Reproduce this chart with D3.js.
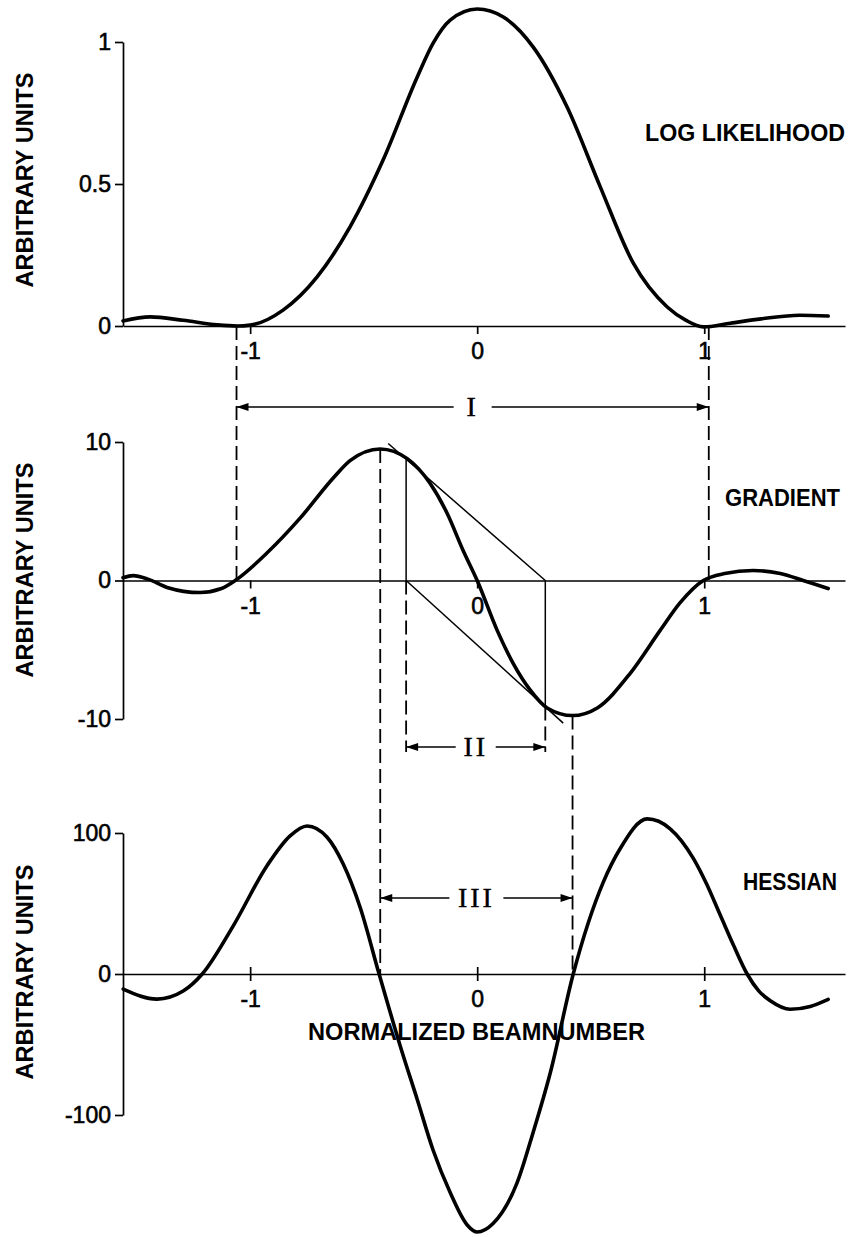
<!DOCTYPE html>
<html><head><meta charset="utf-8">
<script src="https://cdn.jsdelivr.net/npm/d3@7"></script>
<style>body{margin:0;background:#fff} svg{display:block}</style>
</head><body>
<svg id="c" width="849" height="1237"></svg>
<script>
// ---------- data ----------
const xTicks = [-1, 0, 1];
const xTickLabels = ["-1", "0", "1"];

const likTicks = [0, 0.5, 1];
const likTickLabels = ["0", "0.5", "1"];
const gradTicks = [-10, 0, 10];
const gradTickLabels = ["-10", "0", "10"];
const hessTicks = [-100, 0, 100];
const hessTickLabels = ["-100", "0", "100"];

// log likelihood
const likX = [-1.56, -1.44, -1.295, -1.145, -1.057, -1.0, -0.855, -0.705, -0.56, -0.414, -0.264, -0.194, -0.119, 0, 0.115, 0.247, 0.396, 0.542, 0.687, 0.837, 0.92, 0.996, 1.115, 1.25, 1.42, 1.546];
const likY = [0.018, 0.032, 0.02, 0.004, 0.0, 0.003, 0.056, 0.173, 0.349, 0.585, 0.877, 0.996, 1.077, 1.116, 1.088, 0.982, 0.771, 0.49, 0.222, 0.067, 0.02, -0.003, 0.01, 0.025, 0.038, 0.035];

// gradient
const gradX = [-1.56, -1.515, -1.45, -1.366, -1.22, -1.13, -1.066, -0.925, -0.78, -0.634, -0.56, -0.427, -0.308, -0.207, -0.132, -0.062, 0, 0.088, 0.159, 0.233, 0.308, 0.42, 0.529, 0.674, 0.806, 0.894, 0.996, 1.09, 1.216, 1.335, 1.436, 1.546];
const gradY = [0.2, 0.35, 0.1, -0.5, -0.87, -0.6, 0, 2.0, 4.5, 7.4, 8.66, 9.5, 8.8, 7.0, 4.84, 2.17, 0, -3.6, -6.0, -7.9, -9.2, -9.75, -9.2, -6.7, -3.6, -1.6, 0, 0.5, 0.72, 0.5, 0, -0.58];

// hessian
const hessX = [-1.559, -1.41, -1.295, -1.211, -1.075, -0.925, -0.824, -0.749, -0.661, -0.590, -0.515, -0.432, -0.339, -0.264, -0.194, -0.119, -0.044, 0, 0.070, 0.176, 0.247, 0.322, 0.423, 0.555, 0.630, 0.749, 0.850, 0.952, 1.010, 1.070, 1.130, 1.189, 1.240, 1.291, 1.379, 1.467, 1.546];
const hessY = [-10.7, -17.8, -12.1, 0, 34, 77, 98, 105, 97, 78, 47, 0, -51, -89, -125, -155, -178, -183, -177, -148, -112, -70, 0, 65, 89, 110, 103, 82, 64, 42, 20, 0, -12, -19, -25, -23, -18];

// annotation intervals (normalized beamnumber)
const beamI = [-1.06, 1.02];
const beamII = [-0.313, 0.30];
const beamIII = [-0.427, 0.42];
// Newton iteration points on the gradient curve and tangent lines
const newtonPts = [[-0.313, 8.74], [0.30, -9.1]];
const tangentA = [[-0.392, 9.89], [0.30, 0]];
const tangentB = [[-0.313, 0], [0.379, -10.3]];
const panelNames = ["LOG LIKELIHOOD", "GRADIENT", "HESSIAN"];
const yTitle = "ARBITRARY UNITS";
const xTitle = "NORMALIZED BEAMNUMBER";
const romans = ["I", "II", "III"];

// ---------- layout ----------
const svg = d3.select("#c");
const sans = "'Liberation Sans', Arial, Helvetica, sans-serif";
const serif = "'Liberation Serif', 'Times New Roman', serif";
const x = d3.scaleLinear().domain([-1.56, 1.62]).range([123, 845]);
const yL = d3.scaleLinear().domain([0, 1]).range([326, 42]);
const yG = d3.scaleLinear().domain([-10, 10]).range([719, 442]);
const yH = d3.scaleLinear().domain([-100, 100]).range([1115, 833]);

const dash = "14,6";
const ann = svg.append("g");

function vline(xv, y1, y2, dashed, w) {
  ann.append("line").attr("x1", x(xv)).attr("x2", x(xv)).attr("y1", y1).attr("y2", y2)
    .attr("stroke", "#000").attr("stroke-width", w || 1.8)
    .attr("stroke-dasharray", dashed ? dash : null);
}
// Dashed lines I
beamI.forEach(b => vline(b, yL(0), yG(0), true));
// Dashed lines II
vline(beamII[0], yG(0), 752, true);
vline(beamII[1], yG(newtonPts[1][1]), 752, true);
// Dashed lines III (from gradient extrema down to hessian zero)
vline(beamIII[0], yG(d3.max(gradY)), yH(0), true);
vline(beamIII[1], yG(d3.min(gradY)), yH(0), true);

// Newton construction: verticals and tangents
vline(newtonPts[0][0], yG(newtonPts[0][1]), yG(0), false, 1.5);
vline(newtonPts[1][0], yG(0), yG(newtonPts[1][1]), false, 1.5);
[tangentA, tangentB].forEach(t => {
  ann.append("line").attr("x1", x(t[0][0])).attr("y1", yG(t[0][1]))
    .attr("x2", x(t[1][0])).attr("y2", yG(t[1][1]))
    .attr("stroke", "#000").attr("stroke-width", 1.5);
});

// Arrows with roman numerals
function arrow(a, b, y, gap, label) {
  const x1 = x(a), x2 = x(b), cx = (x1 + x2) / 2;
  ann.append("line").attr("x1", x1).attr("x2", cx - gap).attr("y1", y).attr("y2", y)
    .attr("stroke", "#000").attr("stroke-width", 1.5);
  ann.append("line").attr("x1", cx + gap).attr("x2", x2).attr("y1", y).attr("y2", y)
    .attr("stroke", "#000").attr("stroke-width", 1.5);
  ann.append("path").attr("d", `M${x1},${y} L${x1 + 12},${y - 4} L${x1 + 12},${y + 4} Z`).attr("fill", "#000");
  ann.append("path").attr("d", `M${x2},${y} L${x2 - 12},${y - 4} L${x2 - 12},${y + 4} Z`).attr("fill", "#000");
  ann.append("text").attr("x", cx).attr("y", y + 9).attr("text-anchor", "middle")
    .attr("font-family", serif).attr("font-size", 28).attr("letter-spacing", 3)
    .attr("stroke", "#000").attr("stroke-width", 0.4)
    .text(label);
}
arrow(beamI[0], beamI[1], 407, 19, romans[0]);
arrow(beamII[0], beamII[1], 747, 20, romans[1]);
arrow(beamIII[0], beamIII[1], 898, 27, romans[2]);

// ---------- panels ----------
function panel(y, yTicks, yLabels, xs, ys, name, nameBox, titleCenter, crossTicks) {
  const g = svg.append("g");
  // x axis
  const xa = g.append("g").attr("transform", `translate(0,${y(0)})`)
    .call(d3.axisBottom(x).tickValues(xTicks).tickFormat((d, i) => xTickLabels[i])
      .tickSizeInner(8).tickSizeOuter(0).tickPadding(9));
  xa.select(".domain").attr("stroke-width", 1.7);
  xa.selectAll(".tick line").attr("stroke-width", 1.7);
  if (crossTicks) xa.selectAll(".tick line").attr("y1", -7).attr("y2", 7);
  xa.selectAll("text").attr("font-size", 23).attr("font-family", sans)
    .attr("stroke", "#000").attr("stroke-width", 0.6);
  // y axis
  const ya = g.append("g").attr("transform", `translate(${x.range()[0]},0)`)
    .call(d3.axisLeft(y).tickValues(yTicks).tickFormat((d, i) => yLabels[i])
      .tickSizeInner(8).tickSizeOuter(0).tickPadding(4));
  ya.select(".domain").attr("stroke-width", 1.7);
  ya.selectAll(".tick line").attr("stroke-width", 1.7);
  ya.selectAll("text").attr("font-size", 23).attr("font-family", sans)
    .attr("stroke", "#000").attr("stroke-width", 0.6);
  // y title
  g.append("text").attr("transform", `translate(33,${titleCenter}) rotate(-90)`)
    .attr("text-anchor", "middle").attr("font-family", sans).attr("font-weight", "bold")
    .attr("font-size", 23).attr("textLength", 215).attr("lengthAdjust", "spacingAndGlyphs")
    .text(yTitle);
  // curve
  const pts = xs.map((v, i) => [v, ys[i]]);
  g.append("path").datum(pts)
    .attr("d", d3.line().x(d => x(d[0])).y(d => y(d[1])).curve(d3.curveMonotoneX))
    .attr("fill", "none").attr("stroke", "#000").attr("stroke-width", 3.6)
    .attr("stroke-linejoin", "round").attr("stroke-linecap", "round");
  // name
  g.append("text").attr("x", nameBox[0]).attr("y", nameBox[1])
    .attr("font-family", sans).attr("font-weight", "bold").attr("font-size", 23)
    .attr("textLength", nameBox[2]).attr("lengthAdjust", "spacingAndGlyphs")
    .text(name);
}
panel(yL, likTicks, likTickLabels, likX, likY, panelNames[0], [645, 141, 200], 180, false);
panel(yG, gradTicks, gradTickLabels, gradX, gradY, panelNames[1], [725, 506, 115], 570, false);
panel(yH, hessTicks, hessTickLabels, hessX, hessY, panelNames[2], [743, 890, 94], 972, true);

// x title
svg.append("text").attr("x", 308).attr("y", 1040)
  .attr("font-family", sans).attr("font-weight", "bold").attr("font-size", 23)
  .attr("textLength", 337).attr("lengthAdjust", "spacingAndGlyphs")
  .text(xTitle);
</script>
</body></html>
